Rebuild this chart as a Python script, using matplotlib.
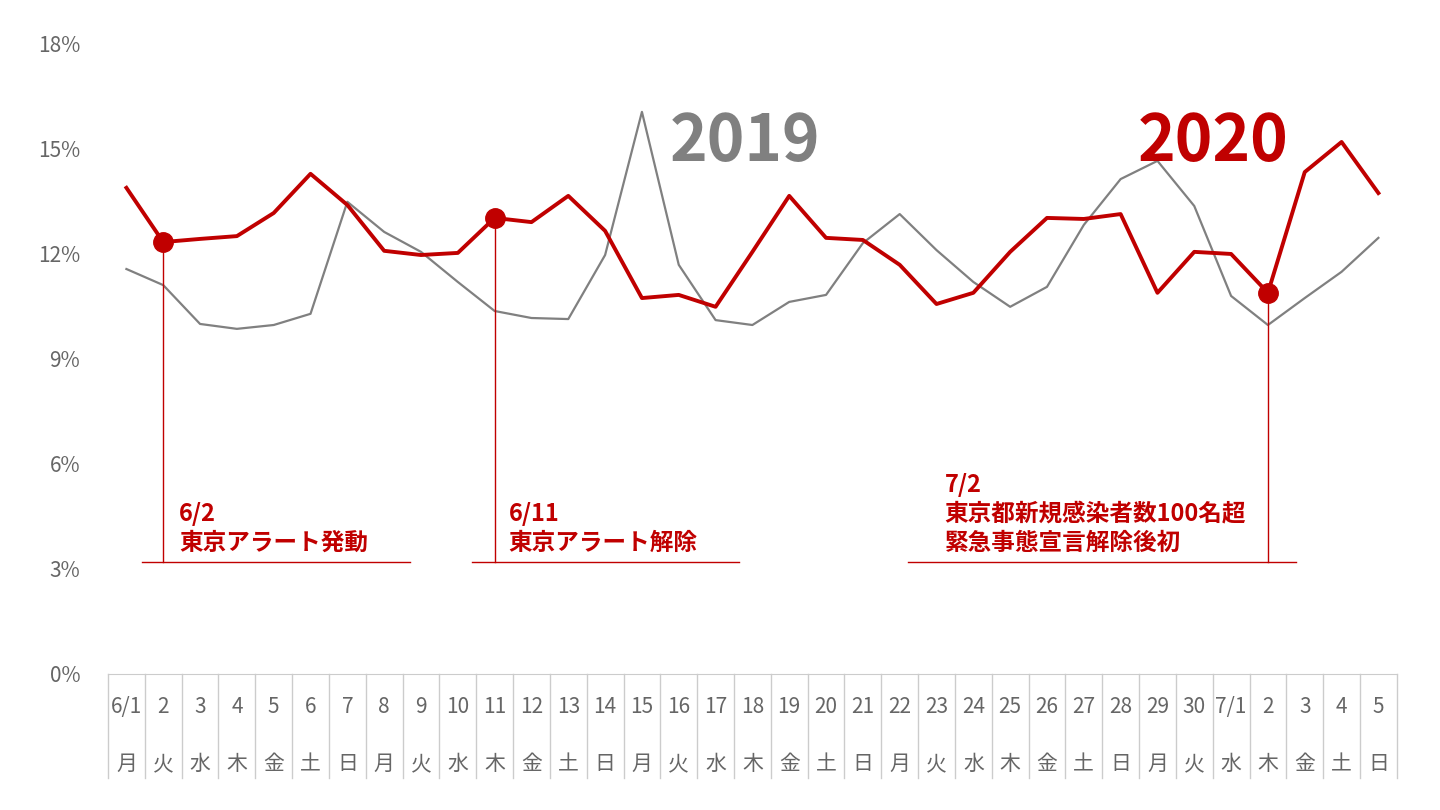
import matplotlib
matplotlib.use("Agg")
import matplotlib.pyplot as plt
from matplotlib.transforms import blended_transform_factory

plt.rcParams['font.family'] = ['Noto Sans CJK JP', 'DejaVu Sans']

dates = ['6/1', '2', '3', '4', '5', '6', '7', '8', '9', '10', '11', '12', '13', '14', '15',
         '16', '17', '18', '19', '20', '21', '22', '23', '24', '25', '26', '27', '28', '29', '30',
         '7/1', '2', '3', '4', '5']
weekdays = ['月', '火', '水', '木', '金', '土', '日'] * 5
rate_2020 = [13.89, 12.34, 12.43, 12.51, 13.17, 14.29, 13.40, 12.09, 11.97, 12.03,
             13.03, 12.91, 13.66, 12.66, 10.74, 10.83, 10.49, 12.06, 13.66, 12.46,
             12.40, 11.69, 10.57, 10.89, 12.06, 13.03, 13.00, 13.14, 10.89, 12.06,
             12.00, 10.89, 14.34, 15.20, 13.74]
rate_2019 = [11.57, 11.11, 10.00, 9.86, 9.97, 10.29, 13.49, 12.63, 12.06, 11.20,
             10.37, 10.17, 10.14, 11.97, 16.06, 11.69, 10.11, 9.97, 10.63, 10.83,
             12.31, 13.14, 12.11, 11.20, 10.49, 11.06, 12.83, 14.14, 14.66, 13.37,
             10.80, 9.97, 10.74, 11.49, 12.46]
events = [(1, 0.43, 7.69, '6/2\n東京アラート発動'),
          (10, 9.375, 16.63, '6/11\n東京アラート解除'),
          (31, 21.22, 31.77, '7/2\n東京都新規感染者数100名超\n緊急事態宣言解除後初')]

RED = '#C00000'
GRAY = '#808080'

fig = plt.figure(figsize=(14.4, 8.1), dpi=100)
ax = fig.add_axes([0.075, 0.168, 0.895, 0.7777])
x = list(range(len(dates)))
ax.plot(x, rate_2019, color=GRAY, lw=1.6)
ax.plot(x, rate_2020, color=RED, lw=2.8)

for i, x0, x1, label in events:
    ax.plot(i, rate_2020[i], 'o', color=RED, ms=14)
    ax.plot([i, i], [3.2, rate_2020[i]], color=RED, lw=1)
    ax.plot([x0, x1], [3.2, 3.2], color=RED, lw=1)
    ax.text(x0 + 1.0, 3.4, label, color=RED, fontsize=17, fontweight='bold',
            va='bottom', ha='left', linespacing=1.25)

ax.text(16.8, 15.2, '2019', color=GRAY, fontsize=46, fontweight='bold', ha='center', va='center')
ax.text(29.5, 15.2, '2020', color=RED, fontsize=46, fontweight='bold', ha='center', va='center')

ax.set_xlim(-0.5, len(dates) - 0.5)
ax.set_ylim(0, 18)
ax.set_yticks(range(0, 19, 3))
ax.set_yticklabels([f'{v}%' for v in range(0, 19, 3)], color='#666666', fontsize=15)
ax.tick_params(axis='y', length=0, pad=20)
ax.set_xticks([])
for s in ['top', 'right', 'left']:
    ax.spines[s].set_visible(False)
ax.spines['bottom'].set_color('#cccccc')

# category table under the axis
tr = blended_transform_factory(ax.transData, ax.transAxes)
for i in range(len(dates)):
    ax.text(i, -0.052, dates[i], transform=tr, ha='center', va='center', fontsize=15, color='#666666')
    ax.text(i, -0.143, weekdays[i], transform=tr, ha='center', va='center', fontsize=15, color='#666666')
for b in range(len(dates) + 1):
    ax.plot([b - 0.5, b - 0.5], [0, -0.165], transform=tr, color='#cccccc', lw=1, clip_on=False)

fig.savefig('out.png', dpi=100)
